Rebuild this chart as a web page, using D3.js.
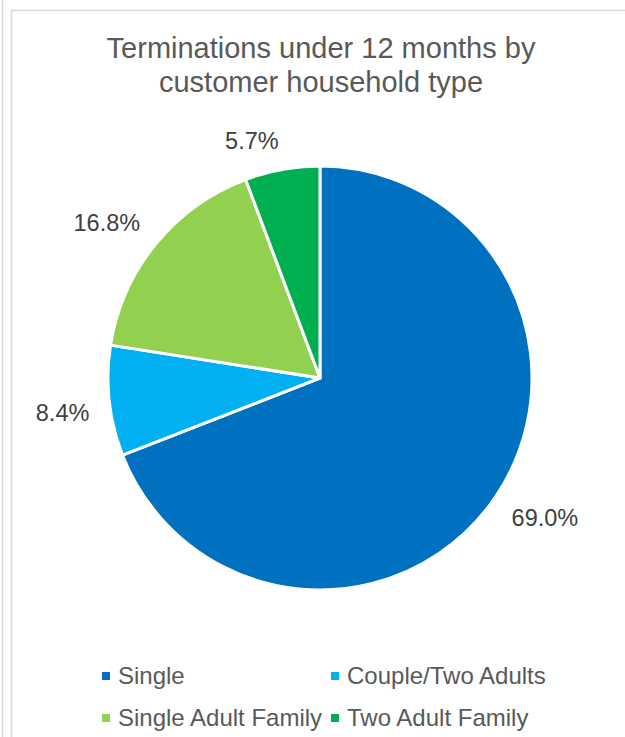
<!DOCTYPE html>
<html>
<head>
<meta charset="utf-8">
<script src="https://cdn.jsdelivr.net/npm/d3@7"></script>
<style>
  body { margin: 0; background: #fff; }
  svg text { font-family: "Liberation Sans", Arial, sans-serif; }
</style>
</head>
<body>
<div id="chart"></div>
<script>
// data
const categories = ['Single', 'Couple/Two Adults', 'Single Adult Family', 'Two Adult Family'];
const shares = [69.0, 8.4, 16.8, 5.7];
const colours = ['#0070C0', '#00B0F0', '#92D050', '#00B050'];
const titleLines = ['Terminations under 12 months by', 'customer household type'];

const W = 625, H = 737
const cx = 320, cy = 378, radius = 212

const svg = d3.select('#chart').append('svg')
    .attr('width', W)
    .attr('height', H)

// frame lines (chart area border of the sheet)
svg.append('line').attr('x1', 2.5).attr('x2', 2.5).attr('y1', 0).attr('y2', H)
    .attr('stroke', '#d9d9d9').attr('stroke-width', 1.5)
svg.append('rect').attr('x', 11.5).attr('y', 10.5).attr('width', W + 20).attr('height', H + 20)
    .attr('fill', 'none').attr('stroke', '#d9d9d9').attr('stroke-width', 1.5)

// title
svg.append('text')
    .attr('x', 321)
    .attr('y', 58)
    .attr('text-anchor', 'middle')
    .attr('fill', '#595959')
    .style('font-size', '29px')
    .selectAll('tspan')
    .data(titleLines)
        .enter()
    .append('tspan')
    .attr('x', 321)
    .attr('dy', (d, i) => i == 0 ? 0 : 34)
    .text(d => d)

const data = categories.map((c, i) => ({name: c, value: shares[i], colour: colours[i]}))

const pie = d3.pie().sort(null).value(d => d.value)
const arc = d3.arc().innerRadius(0).outerRadius(radius)
const arcs = pie(data)

const g = svg.append('g').attr('transform', 'translate(' + cx + ',' + cy + ')')

g.selectAll('path')
    .data(arcs)
        .enter()
    .append('path')
    .attr('d', arc)
    .attr('fill', d => d.data.colour)
    .attr('stroke', '#fff')
    .attr('stroke-width', 3)
    .attr('stroke-linejoin', 'round')

// outside-end labels: the box corner nearest the pie sits on a ring
const labelRing = 232
const fs = 23.5
const labels = g.selectAll('text.lab')
    .data(arcs)
        .enter()
    .append('text')
    .attr('class', 'lab')
    .attr('fill', '#404040')
    .style('font-size', fs + 'px')
    .attr('text-anchor', 'middle')
    .text(d => d.data.value.toFixed(1) + '%')

labels.each(function(d) {
    const w = this.getComputedTextLength()
    const h = fs * 0.78
    const a = (d.startAngle + d.endAngle) / 2
    const s = Math.sin(a), c = -Math.cos(a)
    const px = labelRing * s, py = labelRing * c
    const x = px + Math.sign(s) * w / 2
    const y = py + Math.sign(c) * h / 2
    d3.select(this).attr('x', x).attr('y', y + fs * 0.36)
})

// legend, two columns
const colX = [102, 331], rowY = [676, 718]
const leg = svg.selectAll('g.leg')
    .data(data)
        .enter()
    .append('g')
    .attr('class', 'leg')
    .attr('transform', (d, i) => 'translate(' + colX[i % 2] + ',' + rowY[Math.floor(i / 2)] + ')')

leg.append('rect')
    .attr('x', 0).attr('y', -4)
    .attr('width', 8).attr('height', 8)
    .attr('fill', d => d.colour)

leg.append('text')
    .attr('x', 16)
    .attr('y', 8)
    .attr('fill', '#595959')
    .style('font-size', '24px')
    .text(d => d.name)
</script>
</body>
</html>
